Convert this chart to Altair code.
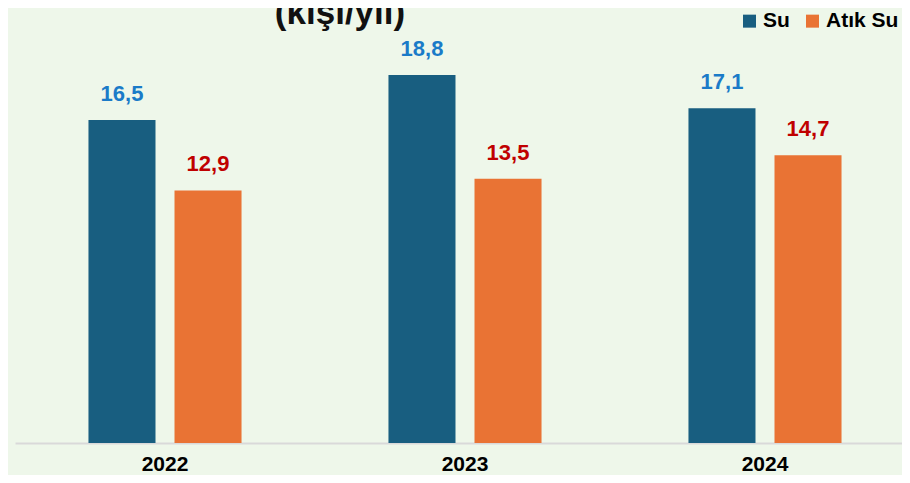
import altair as alt
import pandas as pd

years = ["2022", "2023", "2024"]
series = ["Su", "Atık Su"]
su_values = [16.5, 18.8, 17.1]
atik_values = [12.9, 13.5, 14.7]
colors = ["#185E80", "#E97334"]
label_colors = ["#1A7BC8", "#C00000"]

rows = []
for i, y in enumerate(years):
    rows.append({"Yil": y, "Seri": series[0], "Deger": su_values[i]})
    rows.append({"Yil": y, "Seri": series[1], "Deger": atik_values[i]})
df = pd.DataFrame(rows)

FONT = "Liberation Sans"

x = alt.X(
    "Yil:N",
    sort=years,
    scale=alt.Scale(paddingInner=0.4267, paddingOuter=0.1917, align=0.5565),
    axis=alt.Axis(
        title=None,
        labelAngle=0,
        ticks=False,
        tickSize=0,
        domainColor="#D9D9D9",
        domainWidth=2,
        labelFontSize=21,
        labelFontWeight="bold",
        labelColor="#000000",
        labelFont=FONT,
        labelPadding=10,
    ),
)
xo = alt.XOffset("Seri:N", sort=series, scale=alt.Scale(paddingInner=0.221, paddingOuter=0.11))
y = alt.Y("Deger:Q", scale=alt.Scale(domain=[0, 20], nice=False, zero=True), axis=None)

base = alt.Chart(df)

bars = base.mark_bar().encode(
    x=x,
    xOffset=xo,
    y=y,
    color=alt.Color(
        "Seri:N",
        sort=series,
        scale=alt.Scale(domain=series, range=colors),
        legend=alt.Legend(
            title=None,
            orient="none",
            direction="horizontal",
            legendX=724,
            legendY=-41,
            symbolType="square",
            symbolSize=169,
            symbolStrokeWidth=0,
            labelFontSize=21,
            labelFontWeight="bold",
            labelFont=FONT,
            labelColor="#000000",
            labelOffset=3,
            columnPadding=12,
            padding=0,
        ),
    ),
)

labels = base.mark_text(
    fontSize=22, fontWeight="bold", font=FONT, baseline="alphabetic", dy=-19
).encode(
    x=x,
    xOffset=xo,
    y=y,
    text=alt.Text("Etiket:N"),
    color=alt.condition(
        alt.datum.Seri == series[0], alt.value(label_colors[0]), alt.value(label_colors[1])
    ),
).transform_calculate(
    Etiket="replace(format(datum.Deger, '.1f'), '.', ',')"
)

chart = (
    alt.layer(bars, labels)
    .properties(
        width=887,
        height=391.6,
        autosize=alt.AutoSizeParams(type="none"),
        padding={"left": 7, "top": 43.4, "right": 0, "bottom": 32},
        background="#EEF7EA",
        title=alt.TitleParams(
            text="(kişi/yıl)",
            fontSize=35,
            fontWeight="bold",
            font=FONT,
            color="#111111",
            anchor="middle",
            frame="group",
            baseline="alphabetic",
            offset=0,
            dy=49,
            dx=-118.5,
        ),
    )
    .configure_view(stroke=None)
)

chart.save("out.html", embed_options={"renderer": "svg", "actions": False})
